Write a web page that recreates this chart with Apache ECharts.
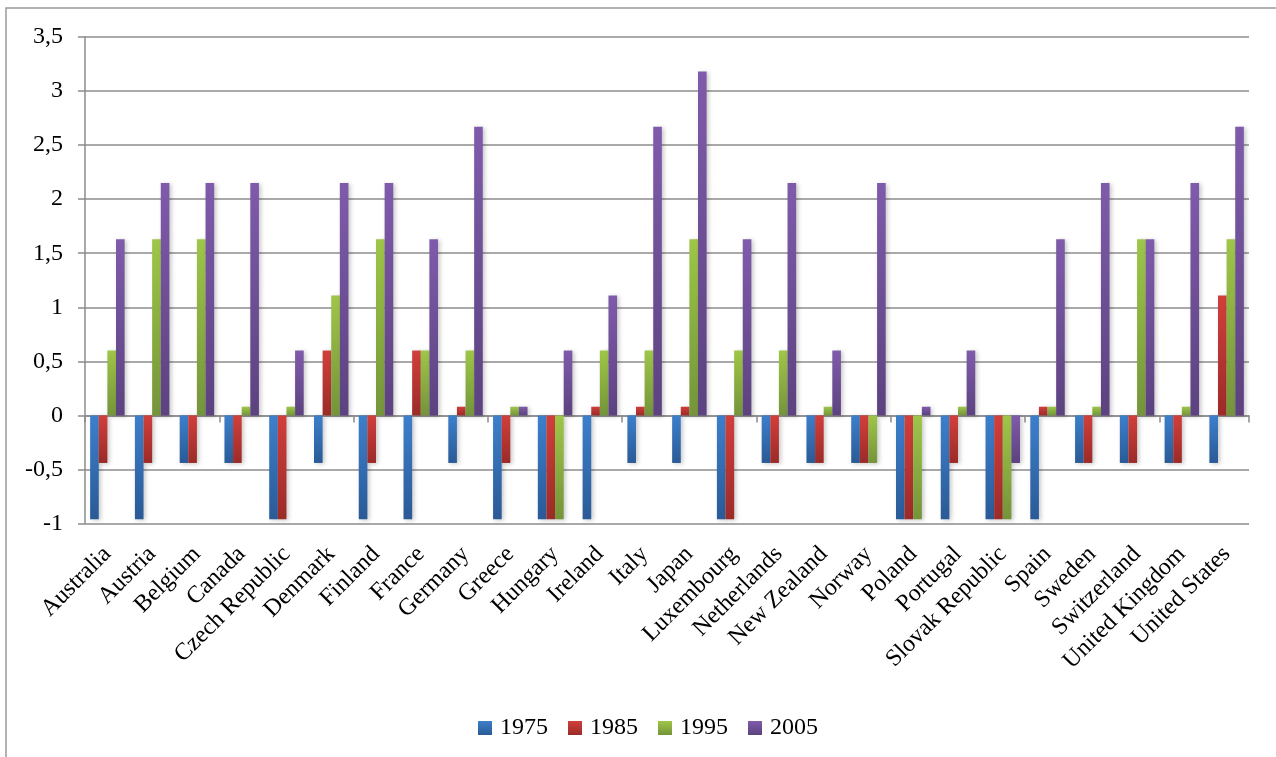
<!DOCTYPE html>
<html>
<head>
<meta charset="utf-8">
<script src="https://cdn.jsdelivr.net/npm/echarts@6/dist/echarts.min.js"></script>
<style>
  html, body { margin: 0; padding: 0; background: #fff; }
  #chart { width: 1276px; height: 757px; }
</style>
</head>
<body>
<div id="chart"></div>
<script>
// Country categories along the horizontal axis
var countries = [
  'Australia', 'Austria', 'Belgium', 'Canada', 'Czech Republic', 'Denmark',
  'Finland', 'France', 'Germany', 'Greece', 'Hungary', 'Ireland', 'Italy',
  'Japan', 'Luxembourg', 'Netherlands', 'New Zealand', 'Norway', 'Poland',
  'Portugal', 'Slovak Republic', 'Spain', 'Sweden', 'Switzerland',
  'United Kingdom', 'United States'
];

var years = ['1975', '1985', '1995', '2005'];

// Index values per country, one array per year
var v1975 = [
  -0.96, -0.96, -0.44, -0.44, -0.96, -0.44, -0.96, -0.96, -0.44, -0.96,
  -0.96, -0.96, -0.44, -0.44, -0.96, -0.44, -0.44, -0.44, -0.96, -0.96,
  -0.96, -0.96, -0.44, -0.44, -0.44, -0.44
];
var v1985 = [
  -0.44, -0.44, -0.44, -0.44, -0.96, 0.6, -0.44, 0.6, 0.08, -0.44,
  -0.96, 0.08, 0.08, 0.08, -0.96, -0.44, -0.44, -0.44, -0.96, -0.44,
  -0.96, 0.08, -0.44, -0.44, -0.44, 1.11
];
var v1995 = [
  0.6, 1.63, 1.63, 0.08, 0.08, 1.11, 1.63, 0.6, 0.6, 0.08,
  -0.96, 0.6, 0.6, 1.63, 0.6, 0.6, 0.08, -0.44, -0.96, 0.08,
  -0.96, 0.08, 0.08, 1.63, 0.08, 1.63
];
var v2005 = [
  1.63, 2.15, 2.15, 2.15, 0.6, 2.15, 2.15, 1.63, 2.67, 0.08,
  0.6, 1.11, 2.67, 3.18, 1.63, 2.15, 0.6, 2.15, 0.08, 0.6,
  -0.44, 1.63, 2.15, 1.63, 2.15, 2.67
];

// Y axis range and step
var yMin = -1, yMax = 3.5, yStep = 0.5;

var FONT = '"Liberation Serif", "Times New Roman", serif';
var GRID_GRAY = '#8c8c8c';

function grad(top, bottom) {
  return new echarts.graphic.LinearGradient(0, 0, 0, 1, [
    { offset: 0, color: top },
    { offset: 1, color: bottom }
  ]);
}

var palette = [
  ['#3d7fcb', '#2a5a96'],
  ['#d13f3b', '#9b2b28'],
  ['#9ec647', '#74943a'],
  ['#7f5bab', '#5c427f']
];

var valueSets = [v1975, v1985, v1995, v2005];

var series = years.map(function (name, i) {
  return {
    name: name,
    type: 'bar',
    xAxisIndex: 0,
    data: valueSets[i],
    barGap: '0%',
    barCategoryGap: '23%',
    itemStyle: {
      color: grad(palette[i][0], palette[i][1]),
      shadowColor: 'rgba(0,0,0,0.22)',
      shadowBlur: 4,
      shadowOffsetX: 2,
      shadowOffsetY: 1
    },
    emphasis: { disabled: true }
  };
});

var chart = echarts.init(document.getElementById('chart'), null, { renderer: 'canvas' });

chart.setOption({
  animation: false,
  backgroundColor: '#ffffff',
  graphic: [{
    type: 'rect',
    shape: { x: 6, y: 8, width: 1400, height: 900 },
    style: { fill: 'none', stroke: '#9a9a9a', lineWidth: 1.5 },
    silent: true
  }],
  grid: { left: 85, right: 27, top: 37, bottom: 233.5, containLabel: false },
  legend: {
    data: years,
    top: 711,
    left: 473,
    itemWidth: 14,
    itemHeight: 14,
    itemGap: 20,
    icon: 'rect',
    textStyle: { fontFamily: FONT, fontSize: 24, color: '#000', padding: [0, 0, 0, 3] }
  },
  xAxis: [{
    type: 'category',
    data: countries,
    position: 'bottom',
    axisLine: { show: false, onZero: false },
    axisTick: { show: false },
    axisLabel: {
      interval: 0,
      rotate: 45,
      margin: 27,
      fontFamily: FONT,
      fontSize: 24,
      color: '#000'
    }
  }, {
    type: 'category',
    data: countries,
    position: 'bottom',
    axisLine: { show: true, onZero: true, lineStyle: { color: GRID_GRAY, width: 1.5 } },
    axisTick: { show: true, length: 7, lineStyle: { color: GRID_GRAY, width: 1.5 } },
    axisLabel: { show: false }
  }],
  yAxis: {
    type: 'value',
    min: yMin,
    max: yMax,
    interval: yStep,
    axisLine: { show: true, lineStyle: { color: GRID_GRAY, width: 1.5 } },
    axisTick: { show: true, length: 7, lineStyle: { color: GRID_GRAY, width: 1.5 } },
    splitLine: { show: true, lineStyle: { color: GRID_GRAY, width: 1.5 } },
    axisLabel: {
      margin: 22,
      fontFamily: FONT,
      fontSize: 24,
      color: '#000',
      formatter: function (v) { return String(v).replace('.', ','); }
    }
  },
  series: series
});
</script>
</body>
</html>
